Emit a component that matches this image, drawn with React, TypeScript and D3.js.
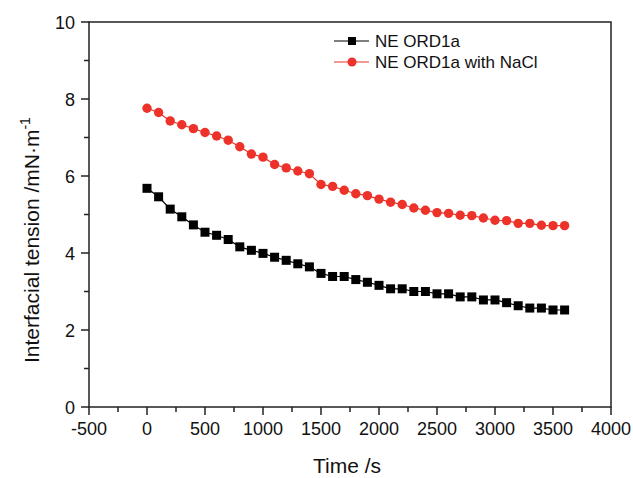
import React from "react";
import * as d3 from "d3";

const times = [0,100,200,300,400,500,600,700,800,900,1000,1100,1200,1300,1400,1500,1600,1700,1800,1900,2000,2100,2200,2300,2400,2500,2600,2700,2800,2900,3000,3100,3200,3300,3400,3500,3600];
const seriesPlain = [5.68,5.46,5.14,4.94,4.73,4.54,4.46,4.35,4.16,4.07,3.99,3.89,3.81,3.72,3.64,3.47,3.39,3.39,3.31,3.24,3.16,3.07,3.07,3.00,3.00,2.94,2.94,2.86,2.86,2.78,2.78,2.71,2.63,2.57,2.57,2.52,2.52];
const seriesNaCl = [7.76,7.65,7.43,7.33,7.23,7.13,7.04,6.93,6.76,6.57,6.49,6.30,6.21,6.13,6.06,5.78,5.73,5.63,5.54,5.49,5.40,5.32,5.26,5.17,5.11,5.05,5.03,4.98,4.97,4.91,4.85,4.84,4.77,4.77,4.72,4.71,4.71];
const seriesNames = ["NE ORD1a", "NE ORD1a with NaCl"];
const xTicks = [-500,0,500,1000,1500,2000,2500,3000,3500,4000];
const xMinor = [-250,250,750,1250,1750,2250,2750,3250,3750];
const yTicks = [0,2,4,6,8,10];
const yMinor = [1,3,5,7,9];

const W = 633, H = 478;
const L = 89, R = 611, T = 22, B = 407;
const FONT = "'Liberation Sans', Arial, sans-serif";
const AX = "#222";
const RED = "#ec3229";

export default function App() {
  const x = d3.scaleLinear().domain([-500, 4000]).range([L, R]);
  const y = d3.scaleLinear().domain([0, 10]).range([B, T]);
  const line = d3.line<[number, number]>().x(d => x(d[0])).y(d => y(d[1]));
  const dPlain = times.map((t, i) => [t, seriesPlain[i]] as [number, number]);
  const dNaCl = times.map((t, i) => [t, seriesNaCl[i]] as [number, number]);
  const sq = 9;
  return (
    <svg width={W} height={H} style={{ position: "absolute", left: 0, top: 0, background: "#fff" }} fontFamily={FONT}>
      <rect x={0} y={0} width={W} height={H} fill="#fff" />
      {/* frame */}
      <rect x={L} y={T} width={R - L} height={B - T} fill="none" stroke={AX} strokeWidth={1.5} />
      {/* x ticks */}
      {xTicks.map(t => (
        <g key={"xt" + t}>
          <line x1={x(t)} x2={x(t)} y1={B} y2={B + 8} stroke={AX} strokeWidth={1.5} />
          <text x={x(t)} y={435} fontSize={18} textAnchor="middle" fill="#111">{t}</text>
        </g>
      ))}
      {xMinor.map(t => (
        <line key={"xm" + t} x1={x(t)} x2={x(t)} y1={B} y2={B + 5} stroke={AX} strokeWidth={1.5} />
      ))}
      {/* y ticks */}
      {yTicks.map(t => (
        <g key={"yt" + t}>
          <line x1={L - 8} x2={L} y1={y(t)} y2={y(t)} stroke={AX} strokeWidth={1.5} />
          <text x={75} y={y(t) + 6.5} fontSize={18} textAnchor="end" fill="#111">{t}</text>
        </g>
      ))}
      {yMinor.map(t => (
        <line key={"ym" + t} x1={L - 5} x2={L} y1={y(t)} y2={y(t)} stroke={AX} strokeWidth={1.5} />
      ))}
      {/* axis titles */}
      <text x={347} y={473} fontSize={21} textAnchor="middle" fill="#111">Time /s</text>
      <text transform={`translate(39,363) rotate(-90)`} fontSize={21} textAnchor="start" fill="#111">
        Interfacial tension /mN·m<tspan dy={-9} fontSize={14}>-1</tspan>
      </text>
      {/* series */}
      <path d={line(dPlain) || ""} fill="none" stroke="#000" strokeWidth={1.2} />
      <path d={line(dNaCl) || ""} fill="none" stroke={RED} strokeWidth={1.2} />
      {dPlain.map((d, i) => (
        <rect key={"p" + i} x={x(d[0]) - sq / 2} y={y(d[1]) - sq / 2} width={sq} height={sq} fill="#000" />
      ))}
      {dNaCl.map((d, i) => (
        <circle key={"n" + i} cx={x(d[0])} cy={y(d[1])} r={4.7} fill={RED} />
      ))}
      {/* legend */}
      <g>
        <line x1={334} x2={369} y1={41} y2={41} stroke="#000" strokeWidth={1.2} />
        <rect x={352 - 4} y={41 - 4} width={8} height={8} fill="#000" />
        <text x={375} y={47} fontSize={17} fill="#111">{seriesNames[0]}</text>
        <line x1={334} x2={369} y1={62} y2={62} stroke={RED} strokeWidth={1.2} />
        <circle cx={352} cy={62} r={4.5} fill={RED} />
        <text x={375} y={68} fontSize={17} fill="#111">{seriesNames[1]}</text>
      </g>
    </svg>
  );
}
